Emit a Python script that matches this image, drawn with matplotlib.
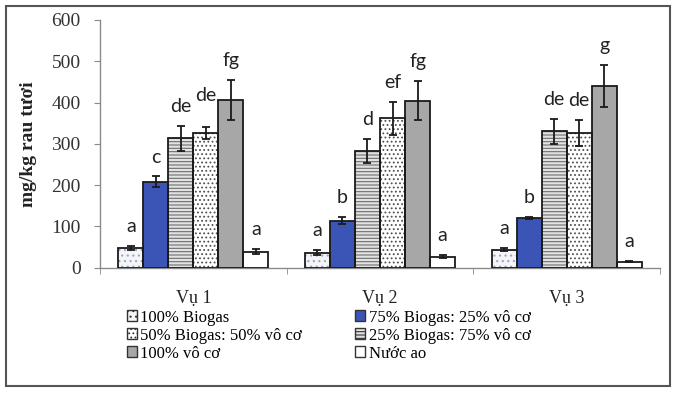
import matplotlib
matplotlib.use("Agg")
import matplotlib.pyplot as plt
from matplotlib.patches import Patch, Rectangle
import numpy as np

# Nitrate content of vegetables for three growing seasons
seasons = ["Vụ 1", "Vụ 2", "Vụ 3"]
treatments = [
    "100% Biogas",
    "75% Biogas: 25% vô cơ",
    "25% Biogas: 75% vô cơ",
    "50% Biogas: 50% vô cơ",
    "100% vô cơ",
    "Nước ao",
]
means = [
    [48, 36, 44],      # 100% Biogas
    [208, 114, 120],   # 75% Biogas: 25% vô cơ
    [313, 283, 330],   # 25% Biogas: 75% vô cơ
    [326, 362, 326],   # 50% Biogas: 50% vô cơ
    [406, 405, 440],   # 100% vô cơ
    [39, 27, 15],      # Nước ao
]
errors = [
    [5, 6, 3],
    [13, 8, 2],
    [30, 29, 30],
    [14, 40, 32],
    [49, 48, 50],
    [7, 3, 2],
]
letters = [
    ["a", "a", "a"],
    ["c", "b", "b"],
    ["de", "d", "de"],
    ["de", "ef", "de"],
    ["fg", "fg", "g"],
    ["a", "a", "a"],
]
legend_order = [
    "100% Biogas",
    "75% Biogas: 25% vô cơ",
    "50% Biogas: 50% vô cơ",
    "25% Biogas: 75% vô cơ",
    "100% vô cơ",
    "Nước ao",
]

# fill / hatch style per treatment
styles = [
    dict(face="#f3f5f8", hatch="...", hcolor="#9aa6b8"),
    dict(face="#3a55b6", hatch="", hcolor="#3a55b6"),
    dict(face="#e2e2e2", hatch="-----", hcolor="#6e6e6e"),
    dict(face="#ffffff", hatch="....", hcolor="#505050"),
    dict(face="#a7a7a7", hatch="", hcolor="#a7a7a7"),
    dict(face="#ffffff", hatch="", hcolor="#ffffff"),
]

plt.rcParams["hatch.linewidth"] = 0.8
serif = "Liberation Serif"

fig = plt.figure(figsize=(6.76, 3.95), dpi=100)
ax = fig.add_axes([100 / 676, 1 - 267.7 / 395, 560 / 676, (267.7 - 20) / 395])

x = np.arange(len(seasons))
w = 0.134
for j, name in enumerate(treatments):
    st = styles[j]
    pos = x + (j - 2.5) * w
    ax.bar(pos, means[j], width=w, color=st["face"], edgecolor=st["hcolor"],
           hatch=st["hatch"], linewidth=0, zorder=2)
    ax.bar(pos, means[j], width=w, fill=False, edgecolor="#1a1a1a",
           linewidth=1.3, zorder=3)
    ax.errorbar(pos, means[j], yerr=errors[j], fmt="none", ecolor="#1a1a1a",
                elinewidth=1.3, capsize=3.2, capthick=1.3, zorder=4)
    for k in range(len(seasons)):
        nudge = 9 if (j == 3 and k == 0) else 0
        ax.annotate(letters[j][k], (pos[k], means[j][k] + errors[j][k]),
                    xytext=(0, 14 + nudge), textcoords="offset points",
                    ha="center", va="center", fontsize=14, family="Lato",
                    color="#222222", zorder=5)

ax.set_xlim(-0.5, 2.5)
ax.set_ylim(0, 600)
ax.set_yticks(np.arange(0, 601, 100))
ax.set_xticks(x)
ax.set_xticklabels(seasons, family=serif, fontsize=13)
ax.set_xticks(np.arange(-0.5, 2.6, 1.0), minor=True)
ax.tick_params(axis="x", which="major", length=0, pad=16)
ax.tick_params(axis="x", which="minor", length=4, color="#8a8a8a", direction="out")
ax.tick_params(axis="y", length=4, color="#8a8a8a", direction="out", pad=10)
for lab in ax.get_yticklabels():
    lab.set_family(serif)
    lab.set_fontsize(14)
    lab.set_color("#333333")
for lab in ax.get_xticklabels():
    lab.set_color("#222222")
for s in ("top", "right"):
    ax.spines[s].set_visible(False)
for s in ("left", "bottom"):
    ax.spines[s].set_color("#8a8a8a")
    ax.spines[s].set_linewidth(1.0)

ax.set_ylabel("mg/kg rau tươi", family=serif, fontsize=14, fontweight="bold",
              color="#222222", labelpad=10)

# legend laid out row by row in two columns
handles = {}
for j, name in enumerate(treatments):
    st = styles[j]
    handles[name] = Patch(facecolor=st["face"], edgecolor="#333333",
                          hatch=st["hatch"], linewidth=1.0)
order = [legend_order[i] for i in (0, 2, 4, 1, 3, 5)]
fig.legend([handles[n] for n in order], order, loc="upper left",
           bbox_to_anchor=(127 / 676, 1 - 309.5 / 395), ncol=2, frameon=False,
           prop={"family": serif, "size": 12}, handlelength=0.6,
           handleheight=0.6, handletextpad=0.2, labelspacing=0.12,
           columnspacing=3.2, borderaxespad=0, borderpad=0)

# outer frame around the whole chart
fig.add_artist(Rectangle((6 / 676, 1 - 386 / 395), 664 / 676, 380 / 395,
                         transform=fig.transFigure, fill=False,
                         edgecolor="#555555", linewidth=1.5))

fig.savefig("out.png", dpi=100)
